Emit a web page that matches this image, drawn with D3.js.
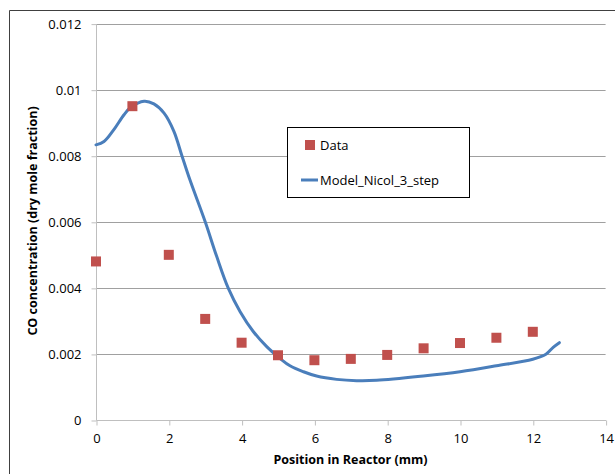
<!DOCTYPE html>
<html><head><meta charset="utf-8">
<script src="https://cdn.jsdelivr.net/npm/d3@7"></script>
<style>body{margin:0;background:#fff;} svg{display:block;} text{font-family:"Open Sans",sans-serif;}</style>
</head><body>
<svg id="c" width="615" height="474"></svg>
<script>
const dataX = [0,1,2,3,4,5,6,7,8,9,10,11,12];
const dataY = [0.0048,0.0095,0.0050,0.00306,0.00234,0.00196,0.00181,0.00185,0.00197,0.00217,0.00233,0.00249,0.00267];
const modelX = [0,0.22,0.49,0.77,0.95,1.32,1.59,1.87,2.14,2.36,2.58,3.0,3.31,3.63,3.96,4.32,4.69,5.05,5.33,5.7,6.06,6.61,7.16,7.71,8.99,10.0,11.0,12.0,12.36,12.56,12.73];
const modelY = [0.00833,0.00843,0.00879,0.00924,0.00946,0.00965,0.00957,0.00929,0.00874,0.0080,0.00727,0.0060,0.00497,0.0040,0.00328,0.00268,0.00222,0.00187,0.00164,0.00146,0.00133,0.00123,0.00119,0.0012,0.00133,0.00146,0.00164,0.00184,0.00199,0.0022,0.00234];
const xTicks = [0,2,4,6,8,10,12,14];
const yTicks = [0,0.002,0.004,0.006,0.008,0.01,0.012];
const yTickLabels = ["0","0.002","0.004","0.006","0.008","0.01","0.012"];
const seriesNames = ["Data","Model_Nicol_3_step"];

const svg = d3.select("#c");
const L=96, R=605.6, T=23.6, B=420;
const x = d3.scaleLinear().domain([0,14]).range([L,R]);
const y = d3.scaleLinear().domain([0,0.012]).range([B,T]);

// outer border
svg.append("path").attr("d","M9.5,474 L9.5,10.5 L615,10.5").attr("fill","none").attr("stroke","#404040").attr("stroke-width",1);

// gridlines
svg.append("g").selectAll("line").data(yTicks.filter(d=>d>0)).join("line")
  .attr("x1",L).attr("x2",R).attr("y1",d=>Math.round(y(d))+0.5).attr("y2",d=>Math.round(y(d))+0.5)
  .attr("stroke","#a0a0a0").attr("stroke-width",1);

// y axis
const yAxis = d3.axisLeft(y).tickValues(yTicks).tickFormat((d,i)=>yTickLabels[i]).tickSize(5).tickPadding(10);
const gy = svg.append("g").attr("transform",`translate(${L+0.5},0.5)`).call(yAxis);
gy.select(".domain").attr("stroke","#bfbfbf").attr("d",`M0,${T}V${B}`);
gy.selectAll(".tick line").attr("stroke","#bfbfbf");
gy.selectAll(".tick text").attr("font-size",13).attr("fill","#000").attr("font-family","Open Sans");

// x axis
const xAxis = d3.axisBottom(x).tickValues(xTicks).tickSize(5).tickPadding(8);
const gx = svg.append("g").attr("transform",`translate(0.5,${B+0.5})`).call(xAxis);
gx.select(".domain").attr("stroke","#bfbfbf").attr("d",`M${L},0H${R}`);
gx.selectAll(".tick line").attr("stroke","#bfbfbf");
gx.selectAll(".tick text").attr("font-size",13).attr("fill","#000").attr("font-family","Open Sans");

// model line
const line = d3.line().x(d=>x(d[0])).y(d=>y(d[1])).curve(d3.curveCatmullRom.alpha(0.5));
svg.append("path").datum(modelX.map((v,i)=>[v,modelY[i]])).attr("d",line)
  .attr("fill","none").attr("stroke","#4a7ebb").attr("stroke-width",3).attr("stroke-linecap","round");

// data markers
const ms=10;
svg.append("g").selectAll("rect").data(dataX.map((v,i)=>[v,dataY[i]])).join("rect")
  .attr("x",d=>x(d[0])-ms/2).attr("y",d=>y(d[1])-ms/2).attr("width",ms).attr("height",ms)
  .attr("fill","#c0504d");

// legend
const lg = svg.append("g");
lg.append("rect").attr("x",287.5).attr("y",127.5).attr("width",182).attr("height",70)
  .attr("fill","#fff").attr("stroke","#000").attr("stroke-width",1);
lg.append("rect").attr("x",305).attr("y",140).attr("width",10).attr("height",10).attr("fill","#c0504d");
lg.append("text").attr("x",320).attr("y",150).attr("font-size",13).text(seriesNames[0]);
lg.append("line").attr("x1",301).attr("x2",318).attr("y1",180).attr("y2",180).attr("stroke","#4a7ebb").attr("stroke-width",3);
lg.append("text").attr("x",320).attr("y",185).attr("font-size",13).text(seriesNames[1]);

// titles
svg.append("text").attr("x",350.5).attr("y",464).attr("text-anchor","middle").attr("font-weight","bold").attr("font-size",12.5)
  .text("Position in Reactor (mm)");
svg.append("text").attr("transform","translate(37,221) rotate(-90)").attr("text-anchor","middle").attr("font-weight","bold").attr("font-size",12.5)
  .text("CO concentration (dry mole fraction)");
</script>
</body></html>
